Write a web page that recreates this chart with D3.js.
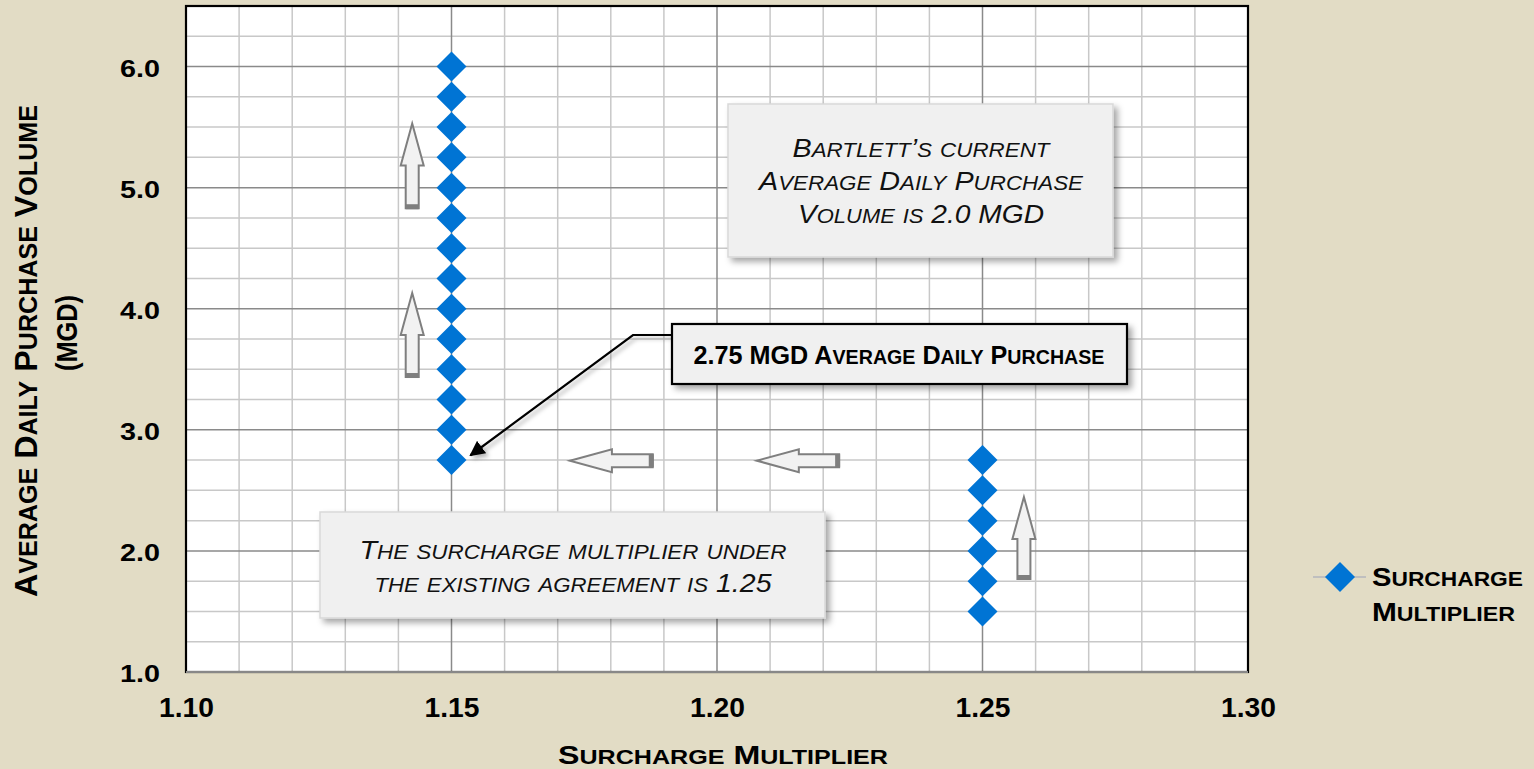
<!DOCTYPE html>
<html><head><meta charset="utf-8">
<script src="https://cdn.jsdelivr.net/npm/d3@7"></script>
<style>
html,body{margin:0;padding:0;background:#e2dcc5;}
svg{display:block;font-family:Arial,"Liberation Sans",sans-serif;}
</style></head>
<body>
<svg id="chart" width="1534" height="769"></svg>
<script>
// ---- data ----
const seriesName = ["Surcharge", "Multiplier"];
const multiplierA = 1.15;
const volumesA = [2.75, 3.0, 3.25, 3.5, 3.75, 4.0, 4.25, 4.5, 4.75, 5.0, 5.25, 5.5, 5.75, 6.0];
const multiplierB = 1.25;
const volumesB = [1.5, 1.75, 2.0, 2.25, 2.5, 2.75];
const xTicks = [1.10, 1.15, 1.20, 1.25, 1.30];
const yTicks = [1.0, 2.0, 3.0, 4.0, 5.0, 6.0];
const xDomain = [1.10, 1.30];
const yDomain = [1.0, 6.5];
const xTitle = "Surcharge Multiplier";
const yTitle = ["Average Daily Purchase Volume", "(MGD)"];
const noteCurrent = ["Bartlett’s current", "Average Daily Purchase", "Volume is 2.0 MGD"];
const noteExisting = ["The surcharge multiplier under", "the existing agreement is 1.25"];
const calloutText = "2.75 MGD Average Daily Purchase";
// annotation arrows in data units
const upArrows = [{x:1.1426, tip:5.53, base:4.83},{x:1.1426, tip:4.13, base:3.436},{x:1.2578, tip:2.445, base:1.768}];
const leftArrows = [{y:2.745, tip:1.1723, end:1.1879},{y:2.745, tip:1.2075, end:1.2230}];

const points = volumesA.map(v=>({x:multiplierA,y:v})).concat(volumesB.map(v=>({x:multiplierB,y:v})));

const svg = d3.select("#chart");
const M = {left:186, right:1248, top:6, bottom:672};
const x = d3.scaleLinear().domain(xDomain).range([M.left, M.right]);
const y = d3.scaleLinear().domain(yDomain).range([M.bottom, M.top]);

// manual small caps text helper
function scText(parent, o){
  const t = parent.append("text")
    .attr("text-anchor", o.anchor || "start")
    .attr("font-size", o.fs)
    .attr("font-weight", o.bold ? "bold" : "normal")
    .attr("font-style", o.italic ? "italic" : "normal")
    .attr("fill", o.fill || "#000");
  if (o.transform) t.attr("transform", o.transform); else t.attr("x", o.x).attr("y", o.y);
  const ratio = o.ratio || 0.78;
  const runs = [];
  for (const ch of o.str){
    const low = ch !== ch.toUpperCase();
    const last = runs[runs.length-1];
    if (last && last.low === low) last.s += ch; else runs.push({low, s:ch});
  }
  runs.forEach(r=>t.append("tspan").attr("font-size", r.low ? o.fs*ratio : o.fs).text(r.low ? r.s.toUpperCase() : r.s));
  if (o.len) t.attr("textLength", o.len).attr("lengthAdjust","spacingAndGlyphs");
  return t;
}

const defs = svg.append("defs");
const f = defs.append("filter").attr("id","shadow").attr("x","-10%").attr("y","-10%").attr("width","130%").attr("height","140%");
f.append("feDropShadow").attr("dx",4).attr("dy",4).attr("stdDeviation",3).attr("flood-color","#000").attr("flood-opacity",0.35);
const f2 = defs.append("filter").attr("id","shadow2").attr("x","-10%").attr("y","-10%").attr("width","130%").attr("height","140%");
f2.append("feDropShadow").attr("dx",3).attr("dy",3).attr("stdDeviation",2).attr("flood-color","#000").attr("flood-opacity",0.3);
defs.append("marker").attr("id","ahead").attr("viewBox","0 0 10 10").attr("refX",9).attr("refY",5)
  .attr("markerWidth",7).attr("markerHeight",7).attr("markerUnits","strokeWidth").attr("orient","auto")
  .append("path").attr("d","M0,0 L10,5 L0,10 z").attr("fill","#000");

// plot background
svg.append("rect").attr("x",M.left).attr("y",M.top).attr("width",M.right-M.left).attr("height",M.bottom-M.top).attr("fill","#fff");

// grid
const xMinor = d3.range(0,21).map(i=>+(1.10+i*0.01).toFixed(2));
const yMinor = d3.range(0,23).map(i=>1+i*0.25);
const isMajorX = v=>Math.abs(v*20-Math.round(v*20))<1e-6;
const isMajorY = v=>Math.abs(v-Math.round(v))<1e-6;
const g = svg.append("g");
g.selectAll("line.vx").data(xMinor.filter(v=>!isMajorX(v))).join("line")
  .attr("x1",d=>x(d)).attr("x2",d=>x(d)).attr("y1",M.top).attr("y2",M.bottom).attr("stroke","#c8c8c8").attr("stroke-width",1.5);
g.selectAll("line.hy").data(yMinor.filter(v=>!isMajorY(v))).join("line")
  .attr("y1",d=>y(d)).attr("y2",d=>y(d)).attr("x1",M.left).attr("x2",M.right).attr("stroke","#c8c8c8").attr("stroke-width",1.5);
g.selectAll("line.vX").data(xMinor.filter(isMajorX)).join("line")
  .attr("x1",d=>x(d)).attr("x2",d=>x(d)).attr("y1",M.top).attr("y2",M.bottom).attr("stroke","#8a8a8a").attr("stroke-width",1.5);
g.selectAll("line.hY").data(yMinor.filter(isMajorY)).join("line")
  .attr("y1",d=>y(d)).attr("y2",d=>y(d)).attr("x1",M.left).attr("x2",M.right).attr("stroke","#8a8a8a").attr("stroke-width",1.5);

// border
svg.append("rect").attr("x",M.left).attr("y",M.top).attr("width",M.right-M.left).attr("height",M.bottom-M.top)
  .attr("fill","none").attr("stroke","#000").attr("stroke-width",2.2);
svg.append("line").attr("x1",M.left).attr("x2",M.right).attr("y1",M.bottom).attr("y2",M.bottom).attr("stroke","#888").attr("stroke-width",2.2);

// axes (labels only)
const xAxis = d3.axisBottom(x).tickValues(xTicks).tickFormat(d3.format(".2f")).tickSize(0).tickPadding(0);
const xa = svg.append("g").attr("transform",`translate(0,${M.bottom})`).call(xAxis);
xa.select(".domain").remove();
xa.selectAll("text").attr("dy",null).attr("y",45).attr("font-size",27).attr("font-weight","bold").attr("fill","#000")
  .attr("font-family","Arial, 'Liberation Sans', sans-serif").attr("textLength",55).attr("lengthAdjust","spacingAndGlyphs");
const yAxis = d3.axisLeft(y).tickValues(yTicks).tickFormat(d3.format(".1f")).tickSize(0).tickPadding(0);
const ya = svg.append("g").attr("transform",`translate(${M.left},0)`).call(yAxis);
ya.select(".domain").remove();
ya.selectAll("text").attr("x",-26).attr("dy",null).attr("y",9.5).attr("font-size",24.5).attr("font-weight","bold").attr("fill","#000")
  .attr("font-family","Arial, 'Liberation Sans', sans-serif").attr("textLength",40).attr("lengthAdjust","spacingAndGlyphs");

// axis titles
scText(svg,{x:723,y:764,anchor:"middle",fs:25,bold:true,len:330,str:xTitle});
scText(svg,{transform:"translate(37,351) rotate(-90)",anchor:"middle",fs:32,bold:true,len:492,str:yTitle[0]});
scText(svg,{transform:"translate(77,333) rotate(-90)",anchor:"middle",fs:29,bold:true,len:76,str:yTitle[1]});

// arrows
function upArrowPath(cx, tipY, baseY){
  const hw=11.5, sw=6.5, hl=42;
  return `M${cx},${tipY} L${cx+hw},${tipY+hl} L${cx+sw},${tipY+hl} L${cx+sw},${baseY} L${cx-sw},${baseY} L${cx-sw},${tipY+hl} L${cx-hw},${tipY+hl} Z`;
}
function leftArrowPath(cy, tipX, endX){
  const hh=11.5, sh=6.5, hl=42;
  return `M${tipX},${cy} L${tipX+hl},${cy-hh} L${tipX+hl},${cy-sh} L${endX},${cy-sh} L${endX},${cy+sh} L${tipX+hl},${cy+sh} L${tipX+hl},${cy+hh} Z`;
}
const ag = svg.append("g");
upArrows.forEach(a=>{
  ag.append("path").attr("d",upArrowPath(x(a.x),y(a.tip),y(a.base))).attr("fill","#f2f2f2").attr("stroke","#7f7f7f").attr("stroke-width",2).attr("stroke-linejoin","miter");
  ag.append("rect").attr("x",x(a.x)-6.5).attr("y",y(a.base)-4).attr("width",13).attr("height",5).attr("fill","#7f7f7f");
});
leftArrows.forEach(a=>{
  ag.append("path").attr("d",leftArrowPath(y(a.y),x(a.tip),x(a.end))).attr("fill","#f2f2f2").attr("stroke","#7f7f7f").attr("stroke-width",2);
  ag.append("rect").attr("x",x(a.end)-4).attr("y",y(a.y)-6.5).attr("width",5).attr("height",13).attr("fill","#7f7f7f");
});

// data markers
const diamond = d3.symbol().type(d3.symbolSquare).size(450);
svg.append("g").selectAll("path").data(points).join("path")
  .attr("d",diamond).attr("transform",d=>`translate(${x(d.x)},${y(d.y)}) rotate(45)`).attr("fill","#0074d4");

// note boxes
function noteBox(x0,y0,w,h){
  return svg.append("g").call(gg=>gg.append("rect").attr("x",x0).attr("y",y0).attr("width",w).attr("height",h).attr("fill","#f0f0f0")
    .attr("stroke","#d9d9d9").attr("stroke-width",1.5).attr("filter","url(#shadow)"));
}
const nb1 = noteBox(728,104,385,153);
const lens1 = [257,324,246];
noteCurrent.forEach((s,i)=>scText(nb1,{x:921,y:157+i*33,anchor:"middle",fs:25.5,italic:true,len:lens1[i],str:s,fill:"#111"}));
const nb2 = noteBox(320,512,505,106);
const lens2 = [427,397];
noteExisting.forEach((s,i)=>scText(nb2,{x:573,y:559+i*33,anchor:"middle",fs:25.5,italic:true,len:lens2[i],str:s,fill:"#111"}));

// callout
const cg = svg.append("g");
cg.append("path").attr("d",`M${672},${335} L${633},${335} L${x(multiplierA)+19},${y(2.79)}`)
  .attr("fill","none").attr("stroke","#000").attr("stroke-width",2.2).attr("marker-end","url(#ahead)").attr("filter","url(#shadow2)");
cg.append("rect").attr("x",672).attr("y",324).attr("width",455).attr("height",60).attr("fill","#f0f0f0")
  .attr("stroke","#000").attr("stroke-width",2.2).attr("filter","url(#shadow)");
scText(cg,{x:899,y:364,anchor:"middle",fs:25,bold:true,len:411,str:calloutText});

// legend
const lg = svg.append("g");
lg.append("line").attr("x1",1313).attr("x2",1366).attr("y1",577).attr("y2",577).attr("stroke","#bfbfbf").attr("stroke-width",2);
lg.append("path").attr("d",diamond).attr("transform","translate(1340,577) rotate(45)").attr("fill","#0074d4");
scText(lg,{x:1372,y:586,fs:26,bold:true,len:151,str:seriesName[0]});
scText(lg,{x:1372,y:621,fs:26,bold:true,len:143,str:seriesName[1]});
</script>
</body></html>
